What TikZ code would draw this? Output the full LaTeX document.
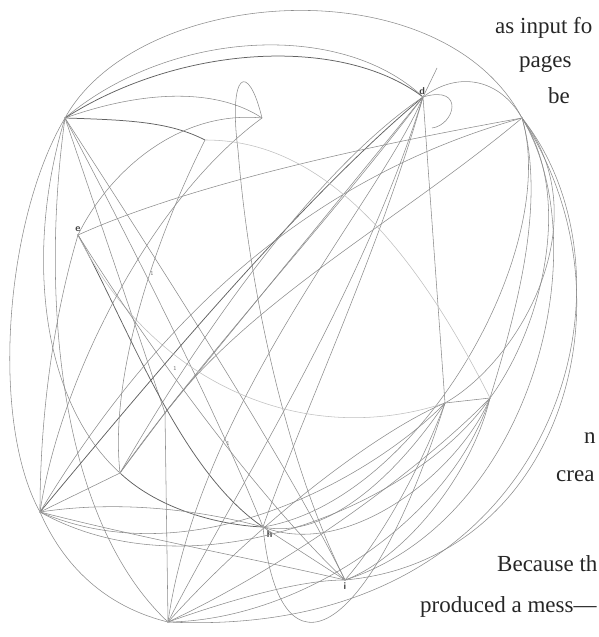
\documentclass[tikz,border=0pt]{standalone}
\usepackage{fontspec}
\setmainfont{Liberation Serif}
\usetikzlibrary{positioning}

\begin{document}
\begin{tikzpicture}[x=1pt, y=-1pt,
    hub/.style={circle, inner sep=0pt, minimum size=1.6pt, fill=black!60},
    tag/.style={font=\sffamily\bfseries\fontsize{10}{10}\selectfont, text=black!75, inner sep=1pt},
    num/.style={font=\sffamily\fontsize{6}{6}\selectfont, text=black!55, inner sep=0pt},
    link/.style={draw=black!45, line width=0.55pt},
    heavy/.style={link, draw=black!62, line width=0.75pt},
    faint/.style={link, draw=black!25},
    prose/.style={anchor=base west, inner sep=0pt, font=\fontsize{23}{23}\selectfont, text=black!85}
]
\useasboundingbox (0,0) rectangle (598,637);
\clip (0,0) rectangle (598,637);

% hubs
\node[hub] (A) at (65,118) {};
\node[hub] (D) at (423,97) {};
\node[hub] (C) at (522,118) {};
\node[hub] (E) at (78,235) {};
\node[hub] (G) at (165,413) {};
\node[hub] (H) at (263,527) {};
\node[hub] (I) at (345,580) {};
\node[hub] (P) at (445,403) {};
\node[hub] (Q) at (490,398) {};
\node[hub] (L) at (40,512) {};
\node[hub] (M) at (120,473) {};
\node[hub] (B) at (168,622) {};
\coordinate (K) at (262,118);
\coordinate (kb) at (238,150);
\coordinate (R) at (205,140);
\coordinate (S) at (437,68);
\coordinate (dk) at (432,128);

\node[tag, above left=0pt and -4pt of D] {d};
\node[tag, above=1pt of E] {e};
\node[tag, below right=2pt and 2pt of H] {h};
\node[tag, below=1pt of I] {i};
\node[num] at (152,273) {1};
\node[num] at (175,368) {1};
\node[num] at (228,443) {1};

% from the top left hub
\draw[link] (A) .. controls (140,-15) and (440,-35) .. (C);
\draw[link] (A) .. controls (170,30) and (340,20) .. (D);
\draw[heavy] (A) .. controls (180,45) and (340,35) .. (D);
\draw[heavy] (A) .. controls (130,120) and (170,122) .. (R);
\draw[link] (A) .. controls (150,88) and (220,90) .. (K);
\draw[link] (K) .. controls (248,60) and (228,72) .. (kb) .. controls (250,300) and (290,470) .. (I);
\draw[link] (A) .. controls (5,220) and (-10,420) .. (L);
\draw[link] (A) .. controls (25,250) and (40,400) .. (M);
\draw[link] (A) .. controls (40,300) and (60,520) .. (B);
\draw[link] (A) -- (G);
\draw[link] (A) .. controls (140,260) and (220,420) .. (H);
\draw[link] (A) .. controls (150,250) and (280,450) .. (I);

% from d
\draw[heavy] (D) .. controls (300,200) and (150,380) .. (L);
\draw[link] (D) .. controls (330,220) and (200,360) .. (M);
\draw[link] (D) -- (G);
\draw[link] (D) .. controls (380,250) and (300,420) .. (H);
\draw[link] (D) .. controls (360,300) and (230,500) .. (B);
\draw[link] (D) -- (P);
\draw[link] (D) -- (S);
\draw[link] (D) .. controls (465,85) and (455,125) .. (dk);
\draw[link] (D) .. controls (460,70) and (500,80) .. (C);

% from the right hub
\draw[link] (C) .. controls (575,200) and (540,330) .. (Q);
\draw[link] (C) .. controls (600,250) and (530,520) .. (I);
\draw[link] (C) .. controls (640,300) and (560,560) .. (I);
\draw[link] (C) .. controls (650,280) and (560,640) .. (B);
\draw[link] (C) .. controls (600,220) and (520,360) .. (P);
\draw[link] (C) .. controls (400,140) and (200,180) .. (E);
\draw[link] (C) .. controls (560,250) and (420,500) .. (H);
\draw[link] (Q) .. controls (520,300) and (545,200) .. (C);

% from e
\draw[heavy] (E) .. controls (130,330) and (180,470) .. (H);
\draw[link] (E) .. controls (110,170) and (180,110) .. (K);
\draw[link] (E) .. controls (50,330) and (40,430) .. (L);
\draw[faint] (E) .. controls (150,380) and (300,450) .. (P);
\draw[link] (E) .. controls (150,350) and (260,500) .. (I);

% lower left
\draw[link] (G) -- (B);
\draw[link] (G) -- (M);
\draw[link] (M) -- (L);
\draw[heavy] (M) .. controls (160,510) and (220,525) .. (H);
\draw[link] (L) .. controls (70,580) and (120,610) .. (B);
\draw[link] (L) .. controls (150,540) and (260,560) .. (I);
\draw[link] (L) .. controls (120,500) and (200,510) .. (H);
\draw[link] (L) .. controls (200,580) and (380,470) .. (P);
\draw[link] (L) .. controls (200,600) and (420,500) .. (Q);
\draw[link] (B) .. controls (230,600) and (300,580) .. (I);
\draw[link] (B) .. controls (260,520) and (380,430) .. (P);
\draw[link] (B) .. controls (300,560) and (430,460) .. (Q);
\draw[link] (K) .. controls (150,200) and (60,380) .. (L);
\draw[link] (R) .. controls (150,250) and (110,380) .. (M);
\draw[link] (M) .. controls (220,300) and (330,160) .. (D);
\draw[link] (L) .. controls (150,330) and (300,180) .. (C);
\draw[link] (B) .. controls (200,400) and (380,200) .. (D);
\draw[link] (G) .. controls (250,300) and (400,220) .. (C);

% lower right
\draw[link] (H) -- (I);
\draw[link] (H) .. controls (280,690) and (370,640) .. (P);
\draw[link] (H) .. controls (330,540) and (400,470) .. (P);
\draw[link] (H) .. controls (350,560) and (460,470) .. (Q);
\draw[link] (P) -- (Q);
\draw[link] (Q) .. controls (470,480) and (400,560) .. (I);
\draw[link] (P) .. controls (420,470) and (380,540) .. (I);
\draw[link] (Q) .. controls (450,520) and (300,620) .. (B);
\draw[faint] (R) .. controls (280,140) and (380,180) .. (Q);

% page text at the right
\node[prose] (t1) at (495,33) {as input fo};
\node[prose] (t2) at (519,67) {pages};
\node[prose] (t3) at (548,103) {be};
\node[prose] (t4) at (584,443) {n};
\node[prose] (t5) at (556,481) {crea};
\node[prose] (t6) at (497,571) {Because th};
\node[prose] (t7) at (420,612) {produced a mess---};
\end{tikzpicture}
\end{document}
